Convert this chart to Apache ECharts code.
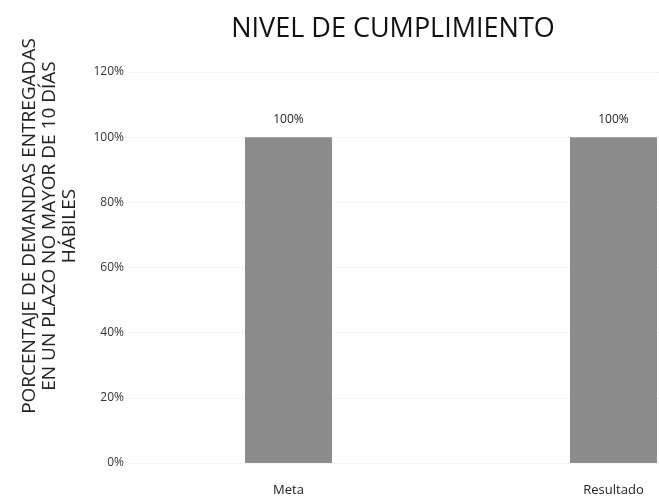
<!DOCTYPE html>
<html><head><meta charset="utf-8">
<script src="https://cdn.jsdelivr.net/npm/echarts@6/dist/echarts.min.js"></script>
<style>html,body{margin:0;padding:0;background:#fff}#c{width:659px;height:499px}</style>
</head><body><div id="c"></div>
<script>
const categories = ['Meta', 'Resultado'];
const values = [100, 100];
const labels = ['100%', '100%'];
const chartTitle = 'NIVEL DE CUMPLIMIENTO';
const yTitle = 'PORCENTAJE DE DEMANDAS ENTREGADAS\nEN UN PLAZO NO MAYOR DE 10 DÍAS\nHÁBILES';

const chart = echarts.init(document.getElementById('c'));
chart.setOption({
  backgroundColor: '#fff',
  animation: false,
  title: {
    text: chartTitle, left: 388, top: 11, textAlign: 'center',
    textStyle: {fontFamily: 'Open Sans', fontWeight: 'normal', fontSize: 27, color: '#111'}
  },
  graphic: [{
    type: 'text', x: 50, y: 226, rotation: Math.PI / 2,
    style: {text: yTitle, fontFamily: 'Open Sans', fontSize: 19, lineHeight: 20, fill: '#222',
      align: 'center', verticalAlign: 'middle'}
  }],
  grid: {left: 126, top: 72, width: 650, bottom: 36, outerBoundsMode: 'none', containLabel: false},
  xAxis: {
    type: 'category', data: categories,
    axisLine: {show: false}, axisTick: {show: false},
    axisLabel: {margin: 21, fontFamily: 'Open Sans', fontSize: 13, color: '#222'}
  },
  yAxis: {
    type: 'value', min: 0, max: 120, interval: 20,
    axisLine: {show: false}, axisTick: {show: false},
    axisLabel: {formatter: v => v + '%', margin: 2, fontFamily: 'Open Sans', fontSize: 12, color: '#333'},
    splitLine: {lineStyle: {color: '#eeeeee', type: 'dotted'}}
  },
  series: [{
    type: 'bar', data: values, barWidth: 87,
    itemStyle: {color: '#8c8c8c'},
    label: {show: true, position: 'top', distance: 12, formatter: p => labels[p.dataIndex],
      fontFamily: 'Open Sans', fontSize: 12, color: '#222'}
  }]
});
</script></body></html>
